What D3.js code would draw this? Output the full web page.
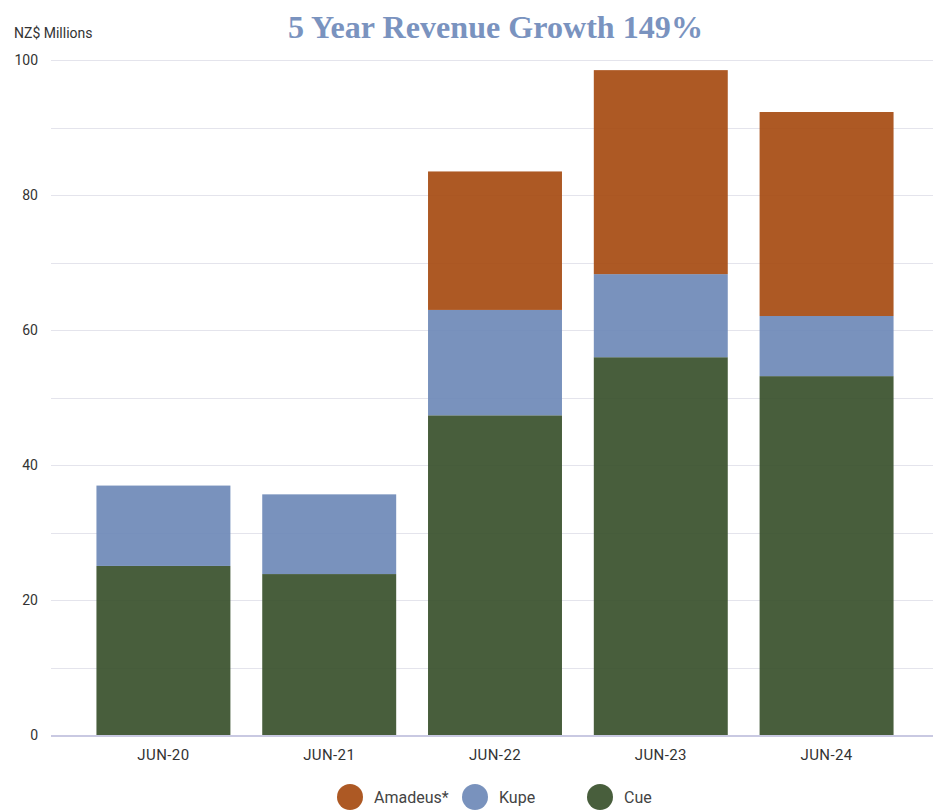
<!DOCTYPE html>
<html>
<head>
<meta charset="utf-8">
<script src="https://cdn.jsdelivr.net/npm/d3@7"></script>
<style>
  html, body { margin: 0; padding: 0; background: #ffffff; }
  svg { display: block; }
</style>
</head>
<body>
<svg id="chart" width="933" height="810"></svg>
<script>
// Revenue by field, NZ$ millions
const periods = ["JUN-20", "JUN-21", "JUN-22", "JUN-23", "JUN-24"];
const cue     = [25.1, 23.9, 47.4, 56.0, 53.2];
const kupe    = [11.9, 11.8, 15.6, 12.3, 8.9];
const amadeus = [0, 0, 20.5, 30.2, 30.2];

const seriesNames  = ["Cue", "Kupe", "Amadeus*"];
const legendOrder  = ["Amadeus*", "Kupe", "Cue"];
const gridTicks    = [0, 10, 20, 30, 40, 50, 60, 70, 80, 90, 100];
const labelTicks   = [0, 20, 40, 60, 80, 100];

const colors = {
  "Cue": "#3a522d",
  "Kupe": "#6f8ab8",
  "Amadeus*": "#a74c13"
};

const rows = periods.map((p, i) => ({
  period: p,
  "Cue": cue[i],
  "Kupe": kupe[i],
  "Amadeus*": amadeus[i]
}));

const svg = d3.select("#chart");
const W = 933;
const gridLeft = 51, gridRight = W;
const yTop = 60, yBottom = 735.5;

const x = d3.scaleBand()
  .domain(periods)
  .range([55, 935])
  .paddingInner(0.192)
  .paddingOuter(0.25);

const y = d3.scaleLinear()
  .domain([0, 100])
  .range([yBottom, yTop]);

// Title and unit caption
const title = svg.append("text")
  .attr("x", 495.5)
  .attr("y", 38)
  .attr("text-anchor", "middle")
  .attr("font-family", "'Liberation Serif', 'DejaVu Serif', serif")
  .attr("font-weight", "bold")
  .attr("font-size", 32)
  .attr("fill", "#7a93bf")
  .text("5 Year Revenue Growth 149%");
title.attr("textLength", 415).attr("lengthAdjust", "spacingAndGlyphs");

svg.append("text")
  .attr("x", 14)
  .attr("y", 38)
  .attr("font-family", "Roboto, 'Noto Sans', sans-serif")
  .attr("font-size", 14)
  .attr("fill", "#333")
  .text("NZ$ Millions");

// Horizontal gridlines
svg.append("g")
  .selectAll("line")
  .data(gridTicks.filter(d => d > 0))
  .join("line")
  .attr("x1", gridLeft)
  .attr("x2", gridRight)
  .attr("y1", d => Math.round(y(d)) + 0.5)
  .attr("y2", d => Math.round(y(d)) + 0.5)
  .attr("stroke", "#e4e4ec")
  .attr("stroke-width", 1);

// Y axis labels
const yAxis = d3.axisLeft(y)
  .tickValues(labelTicks)
  .tickSize(0)
  .tickPadding(0)
  .tickFormat(d3.format("d"));

svg.append("g")
  .attr("transform", "translate(38,0)")
  .call(yAxis)
  .call(g => g.select(".domain").remove())
  .call(g => g.selectAll("text")
    .attr("font-family", "Roboto, 'Noto Sans', sans-serif")
    .attr("font-size", 14)
    .attr("fill", "#333"));

// Stacked bars
const stacked = d3.stack().keys(seriesNames)(rows);

svg.append("g")
  .selectAll("g")
  .data(stacked)
  .join("g")
  .attr("fill", d => colors[d.key])
  .attr("fill-opacity", 0.93)
  .selectAll("rect")
  .data(d => d.filter(s => s[1] - s[0] > 0))
  .join("rect")
  .attr("x", d => x(d.data.period))
  .attr("width", x.bandwidth())
  .attr("y", d => y(d[1]))
  .attr("height", d => y(d[0]) - y(d[1]));

// Baseline
svg.append("line")
  .attr("x1", gridLeft)
  .attr("x2", gridRight)
  .attr("y1", y(0) + 0.5)
  .attr("y2", y(0) + 0.5)
  .attr("stroke", "#c9c9e2")
  .attr("stroke-width", 2);

// X axis labels
const xAxis = d3.axisBottom(x).tickSize(0).tickPadding(0);
svg.append("g")
  .attr("transform", `translate(0,${yBottom + 14})`)
  .call(xAxis)
  .call(g => g.select(".domain").remove())
  .call(g => g.selectAll("text")
    .attr("font-family", "Roboto, 'Noto Sans', sans-serif")
    .attr("font-size", 15)
    .attr("letter-spacing", 0.4)
    .attr("fill", "#333"));

// Legend
const legendX = d3.scaleBand().domain(legendOrder).range([337, 712]);
const legend = svg.append("g")
  .selectAll("g")
  .data(legendOrder)
  .join("g")
  .attr("transform", d => `translate(${legendX(d)},797)`);

legend.append("circle")
  .attr("cx", 13)
  .attr("cy", 0)
  .attr("r", 13)
  .attr("fill", d => colors[d])
  .attr("fill-opacity", 0.93);

legend.append("text")
  .attr("x", 37)
  .attr("y", 6)
  .attr("font-family", "Roboto, 'Noto Sans', sans-serif")
  .attr("font-size", 16)
  .attr("fill", "#444")
  .text(d => d);
</script>
</body>
</html>
